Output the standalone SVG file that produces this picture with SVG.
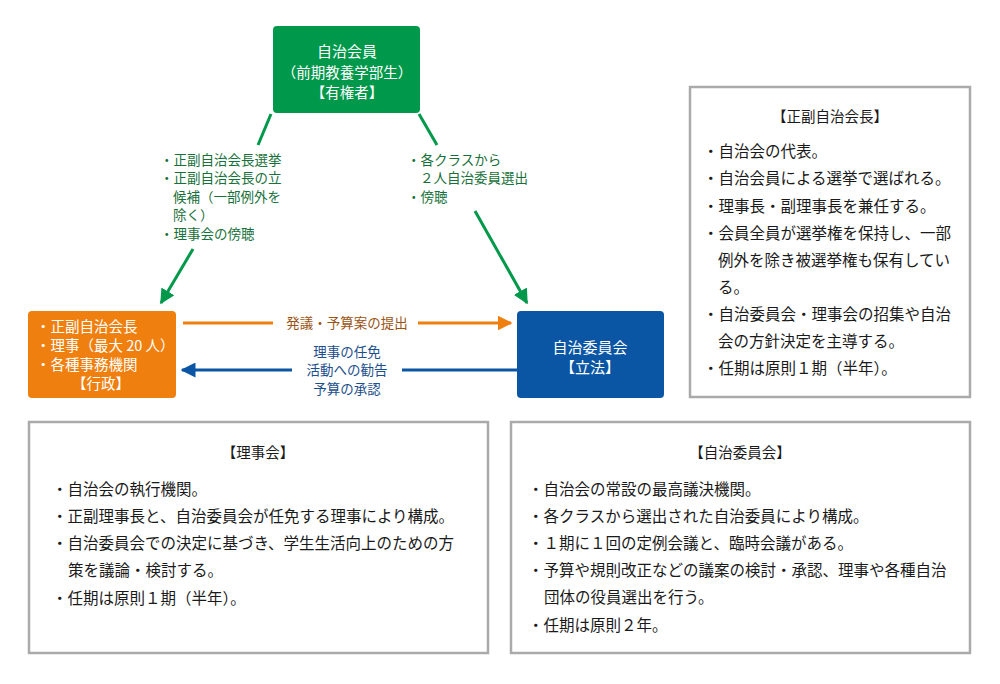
<svg xmlns="http://www.w3.org/2000/svg" width="1000" height="684" viewBox="0 0 1000 684">
<style>
text{font-family:"Noto Sans CJK JP","Noto Sans",sans-serif;}
.box{fill:#fff;stroke:#aaa;stroke-width:2.5;}
.info{font-size:15.5px;fill:#1a1a1a;}
.ttl{font-size:14.5px;fill:#1a1a1a;text-anchor:middle;}
.wt{font-size:14.5px;fill:#fff;}
.gl{font-size:13.5px;fill:#17703a;}
.mid{text-anchor:middle;}
</style>
<defs>
<marker id="ag" viewBox="0 0 10 10" refX="9" refY="5" markerWidth="5" markerHeight="5" orient="auto" markerUnits="strokeWidth"><path d="M0,0 L10,5 L0,10 z" fill="#00984a"/></marker>
<marker id="ao" viewBox="0 0 10 10" refX="9" refY="5" markerWidth="5" markerHeight="5" orient="auto" markerUnits="strokeWidth"><path d="M0,0 L10,5 L0,10 z" fill="#ef7f0f"/></marker>
<marker id="ab" viewBox="0 0 10 10" refX="9" refY="5" markerWidth="5" markerHeight="5" orient="auto" markerUnits="strokeWidth"><path d="M0,0 L10,5 L0,10 z" fill="#0b56a4"/></marker>
</defs>
<rect width="1000" height="684" fill="#fff"/>

<g id="connectors" fill="none" stroke-width="3">
<line x1="271" y1="114" x2="258" y2="145" stroke="#00984a"/>
<line x1="193" y1="249" x2="161" y2="303" stroke="#00984a" marker-end="url(#ag)"/>
<line x1="419" y1="114" x2="437" y2="145" stroke="#00984a"/>
<line x1="475" y1="211" x2="527" y2="303" stroke="#00984a" marker-end="url(#ag)"/>
<line x1="183" y1="323" x2="273" y2="323" stroke="#ef7f0f"/>
<line x1="418" y1="323" x2="511" y2="323" stroke="#ef7f0f" marker-end="url(#ao)"/>
<line x1="517" y1="370" x2="402" y2="370" stroke="#0b56a4"/>
<line x1="292" y1="370" x2="182" y2="370" stroke="#0b56a4" marker-end="url(#ab)"/>
<g class="gl">
<text x="160" y="165">・正副自治会長選挙</text>
<text x="160" y="183">・正副自治会長の立</text>
<text x="173" y="202">候補（一部例外を</text>
<text x="173" y="220">除く）</text>
<text x="160" y="239">・理事会の傍聴</text>
<text x="407" y="165">・各クラスから</text>
<text x="420" y="183">２人自治委員選出</text>
<text x="407" y="202">・傍聴</text>
</g>
<text x="347" y="328" class="mid" style="font-size:13.5px;fill:#9a5416">発議・予算案の提出</text>
<g style="font-size:13.5px;fill:#1d4f8c" class="mid">
<text x="347" y="357">理事の任免</text>
<text x="347" y="375">活動への勧告</text>
<text x="347" y="394">予算の承認</text>
</g>
</g>

<g id="node-member">
<rect x="273" y="26" width="147" height="87" rx="4" fill="#00984a"/>
<text x="347" y="57" class="wt mid" style="font-size:15px">自治会員</text>
<text x="347" y="78" class="wt mid">（前期教養学部生）</text>
<text x="347" y="98" class="wt mid">【有権者】</text>
</g>

<g id="node-exec">
<rect x="28" y="311" width="148" height="87" rx="4" fill="#ef7f0f"/>
<text x="36" y="332" class="wt">・正副自治会長</text>
<text x="36" y="351" class="wt">・理事（最大 20 人）</text>
<text x="36" y="370" class="wt">・各種事務機関</text>
<text x="101" y="389" class="wt mid">【行政】</text>
</g>

<g id="node-legis">
<rect x="517" y="311" width="147" height="87" rx="4" fill="#0b56a4"/>
<text x="590" y="353" class="wt mid" style="font-size:15px">自治委員会</text>
<text x="590" y="373" class="wt mid" style="font-size:15px">【立法】</text>
</g>

<g id="info-president">
<rect x="690" y="87" width="280" height="310" class="box"/>
<text x="830" y="122" class="ttl">【正副自治会長】</text>
<g class="info">
<text x="703" y="157">・自治会の代表。</text>
<text x="703" y="184">・自治会員による選挙で選ばれる。</text>
<text x="703" y="212">・理事長・副理事長を兼任する。</text>
<text x="703" y="239">・会員全員が選挙権を保持し、一部</text>
<text x="718" y="266">例外を除き被選挙権も保有してい</text>
<text x="718" y="293">る。</text>
<text x="703" y="320">・自治委員会・理事会の招集や自治</text>
<text x="718" y="347">会の方針決定を主導する。</text>
<text x="703" y="374">・任期は原則１期（半年）。</text>
</g>
</g>

<g id="info-board">
<rect x="29" y="422" width="459" height="231" class="box"/>
<text x="258" y="458" class="ttl">【理事会】</text>
<g class="info">
<text x="52" y="495">・自治会の執行機関。</text>
<text x="52" y="522">・正副理事長と、自治委員会が任免する理事により構成。</text>
<text x="52" y="549">・自治委員会での決定に基づき、学生生活向上のための方</text>
<text x="68" y="576">策を議論・検討する。</text>
<text x="52" y="604">・任期は原則１期（半年）。</text>
</g>
</g>

<g id="info-committee">
<rect x="511" y="422" width="459" height="231" class="box"/>
<text x="740" y="458" class="ttl">【自治委員会】</text>
<g class="info">
<text x="528" y="495">・自治会の常設の最高議決機関。</text>
<text x="528" y="522">・各クラスから選出された自治委員により構成。</text>
<text x="528" y="549">・１期に１回の定例会議と、臨時会議がある。</text>
<text x="528" y="576">・予算や規則改正などの議案の検討・承認、理事や各種自治</text>
<text x="544" y="603">団体の役員選出を行う。</text>
<text x="528" y="631">・任期は原則２年。</text>
</g>
</g>
</svg>
